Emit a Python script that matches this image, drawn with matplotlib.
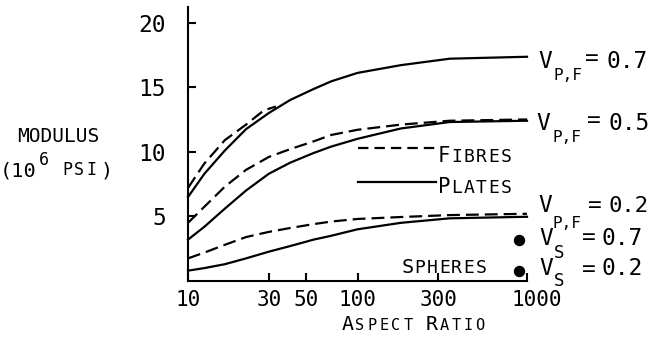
import matplotlib
matplotlib.use("Agg")
import matplotlib.pyplot as plt
from matplotlib.transforms import IdentityTransform, ScaledTranslation
from matplotlib.ticker import NullLocator, FixedLocator, FixedFormatter

plt.rcParams["font.family"] = ["DejaVu Sans Mono", "DejaVu Sans"]

# ---- data -------------------------------------------------------------
aspect = [10, 12.5, 16.5, 22, 30, 40, 55, 70, 100, 180, 350, 1000]
plates_07 = [6.5, 8.3, 10.1, 11.75, 13.0, 14.0, 14.85, 15.45, 16.1, 16.7, 17.2, 17.35]
plates_05 = [3.2, 4.2, 5.6, 7.0, 8.3, 9.15, 9.9, 10.4, 11.0, 11.8, 12.3, 12.4]
plates_02 = [0.8, 1.0, 1.3, 1.75, 2.27, 2.7, 3.2, 3.5, 4.0, 4.5, 4.85, 4.97]
fibres_07_aspect = [10, 12.5, 16.5, 22, 28, 33]
fibres_07 = [7.2, 9.1, 10.9, 12.1, 13.2, 13.5]
fibres_05 = [4.5, 5.75, 7.3, 8.6, 9.6, 10.2, 10.8, 11.3, 11.7, 12.1, 12.4, 12.5]
fibres_02 = [1.75, 2.2, 2.8, 3.4, 3.8, 4.1, 4.4, 4.6, 4.8, 4.95, 5.1, 5.2]
sphere_aspect = [900, 900]
sphere_modulus = [3.2, 0.75]
sphere_fraction = ["0.7", "0.2"]
pf_fraction = ["0.7", "0.5", "0.2"]

x_ticks = [10, 30, 50, 100, 300, 1000]
x_tick_labels = ["10", "30", "50", "100", "300", "1000"]
y_ticks = [5, 10, 15, 20]
y_tick_labels = ["5", "10", "15", "20"]

# ---- figure -----------------------------------------------------------
W, H = 651, 337
fig = plt.figure(figsize=(W / 100, H / 100), dpi=100)
ax = fig.add_axes([188 / W, 1 - 281 / H, (527 - 188) / W, (281 - 7) / H])
ax.set_xscale("log")
ax.set_xlim(10, 1000)
ax.set_ylim(0, 21.2)

for s in ("top", "right"):
    ax.spines[s].set_visible(False)
for s in ("left", "bottom"):
    ax.spines[s].set_linewidth(1.5)

ax.xaxis.set_major_locator(FixedLocator(x_ticks))
ax.xaxis.set_major_formatter(FixedFormatter(x_tick_labels))
ax.xaxis.set_minor_locator(NullLocator())
ax.set_yticks(y_ticks)
ax.set_yticklabels(y_tick_labels)
ax.tick_params(axis="both", direction="in", length=6, width=1.5, colors="black")
ax.tick_params(axis="x", labelsize=15, pad=6.5)
ax.tick_params(axis="y", labelsize=16.5, pad=16)

# the last x label sits a little right of its tick
lab = ax.get_xticklabels()[-1]
lab.set_transform(lab.get_transform() + ScaledTranslation(10 / 100, 0, fig.dpi_scale_trans))

lw = 1.6
curve_dash = (5.8, 2.7)
key_dash = (4.7, 2.7)
ax.plot(aspect, plates_07, color="black", lw=lw, clip_on=False)
ax.plot(aspect, plates_05, color="black", lw=lw, clip_on=False)
ax.plot(aspect, plates_02, color="black", lw=lw, clip_on=False)
ax.plot(fibres_07_aspect, fibres_07, color="black", lw=lw, dashes=curve_dash, clip_on=False)
ax.plot(aspect, fibres_05, color="black", lw=lw, dashes=curve_dash, clip_on=False)
ax.plot(aspect, fibres_02, color="black", lw=lw, dashes=curve_dash, clip_on=False)
ax.plot(sphere_aspect, sphere_modulus, "o", color="black", ms=7.2, clip_on=False)

PIX = IdentityTransform()


def mono(x0, base, text, size, pitch):
    """Write text one character per cell of width `pitch` (pixels), cells
    starting at x0; `base` is the baseline measured from the top edge."""
    for i, ch in enumerate(text):
        if ch == " ":
            continue
        fig.text(x0 + (i + 0.5) * pitch, H - base, ch, fontsize=size,
                 ha="center", va="baseline", transform=PIX, color="black")
    return x0 + len(text) * pitch


def put(x, base, text, size, ha="center", lift=0.0):
    fig.text(x, H - base + lift, text, fontsize=size, ha=ha, va="baseline",
             transform=PIX, color="black")


def small_caps(x0, base, words, big, small, pitch):
    x = x0
    for k, w in enumerate(words):
        if k:
            x += pitch
        x = mono(x, base, w[0], big, pitch)
        x = mono(x, base, w[1:], small, pitch)


def data_px(xv, yv):
    dx, dy = ax.transData.transform((xv, yv))
    return dx, H - dy


# y-axis title
put(17, 141.7, "MODULUS", 14, ha="left")
put(0, 176.7, "(10", 14.6, ha="left")
put(38.5, 165, "6", 12, ha="left")
mono(61, 175, "PSI", 12, 12)
put(101, 176.7, ")", 14.6, ha="left")

# x-axis title
small_caps(341.5, 330, ["ASPECT", "RATIO"], 14.4, 11, 12.05)

# key
kx0, kx1 = 358, 436
ax.plot([kx0, kx1], [H - 148, H - 148], transform=PIX, color="black",
        lw=lw, dashes=key_dash, clip_on=False)
ax.plot([kx0, kx1], [H - 182, H - 182], transform=PIX, color="black",
        lw=lw, clip_on=False)
small_caps(437.8, 161.7, ["FIBRES"], 14.8, 13, 12.4)
small_caps(437.8, 193.3, ["PLATES"], 14.8, 13, 12.4)
small_caps(401.5, 273, ["SPHERES"], 14.6, 13, 12.2)

# curve-end labels: (V centre, V baseline, subscript centre, subscript drop,
#                    '=' centre, '=' lift, number left, number size),
# all relative to the line end
pf_layout = [
    (18, 11.3, 41, 12, 64.5, 3.3, 80, 16.5),
    (16.5, 9.3, 40, 12, 66.5, 3.3, 81, 16.5),
    (18, -4.7, 40, 16, 68, 0.3, 82, 16),
]
pf_ends = [plates_07[-1], plates_05[-1], plates_02[-1]]
for frac, yv, (vx, vb, sx, sd, ex, el, nx, ns) in zip(pf_fraction, pf_ends, pf_layout):
    px, py = data_px(aspect[-1], yv)
    base = py + vb
    put(px + vx, base, "V", 16.5)
    put(px + sx, base + sd, "P,F", 11.5)
    put(px + ex, base, "=", 16.5, lift=el)
    put(px + nx, base, frac, ns, ha="left")

# sphere labels: (V baseline, subscript drop, '=' lift)
vs_layout = [(5, 13, 0.3), (3.3, 11, -1.7)]
for frac, xv, yv, (vb, sd, el) in zip(sphere_fraction, sphere_aspect, sphere_modulus, vs_layout):
    px, py = data_px(xv, yv)
    base = py + vb
    put(px + 27, base, "V", 16.5)
    put(px + 40, base + sd, "S", 12.5)
    put(px + 69.5, base, "=", 16.5, lift=el)
    put(px + 82, base, frac, 16.5, ha="left")

fig.savefig("out.png", dpi=100)
